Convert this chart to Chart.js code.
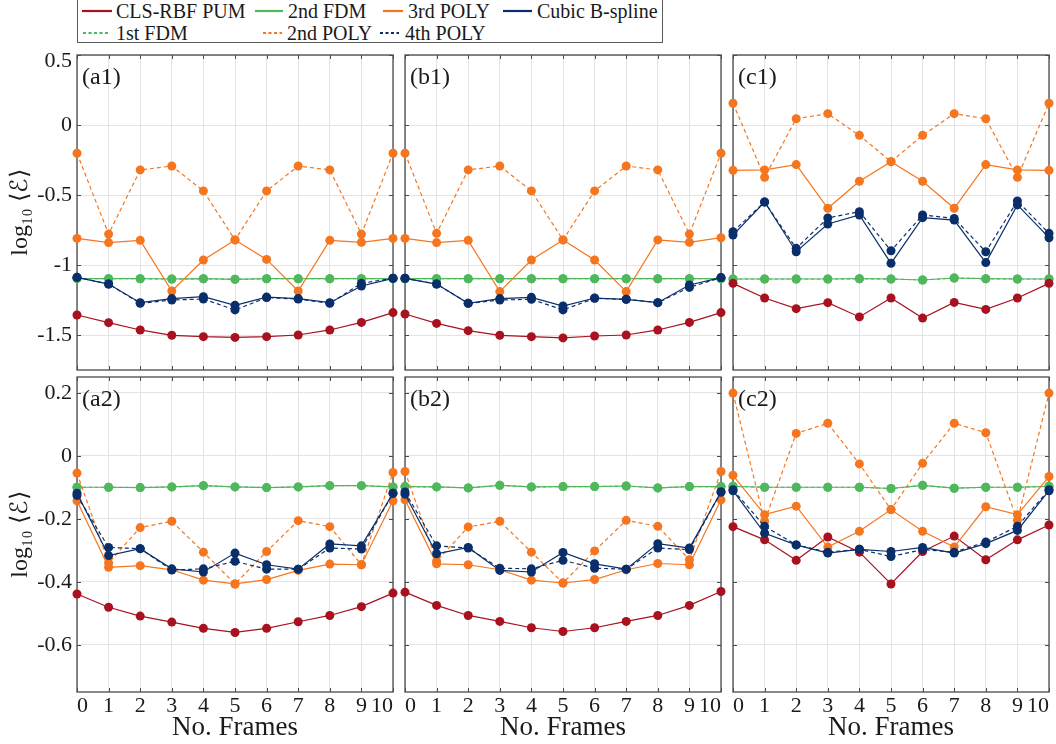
<!DOCTYPE html>
<html>
<head>
<meta charset="utf-8">
<script src="https://cdn.jsdelivr.net/npm/chart.js@4.4.1/dist/chart.umd.min.js"></script>
<style>
  html, body { margin: 0; padding: 0; background: #fff; }
  body { width: 1056px; height: 744px; position: relative; overflow: hidden;
         font-family: 'Liberation Serif', serif; }
  canvas { position: absolute; }
  #legend { position: absolute; left: 77px; top: -1px; width: 586px; height: 44px;
            border: 1px solid #5a5a5a; background: #fff; box-sizing: border-box; }
  .lg-item { position: absolute; font-family: 'Liberation Serif', serif; font-size: 20px;
             line-height: 20px; color: #1a1a1a; white-space: nowrap; }
</style>
</head>
<body>
<div id="legend"></div>
<script>
// ---- frame numbers and axis ticks ----
const frames = [0, 1, 2, 3, 4, 5, 6, 7, 8, 9, 10];
const yTicksTop = [0.5, 0, -0.5, -1, -1.5];
const yTickLabelsTop = ['0.5', '0', '-0.5', '-1', '-1.5'];
const yTicksBottom = [0.2, 0, -0.2, -0.4, -0.6];
const yTickLabelsBottom = ['0.2', '0', '-0.2', '-0.4', '-0.6'];
const yRangeTop = [-1.75, 0.5];
const yRangeBottom = [-0.75, 0.25];
const panelTags = ['(a1)', '(b1)', '(c1)', '(a2)', '(b2)', '(c2)'];

// ---- log10 of mean error per frame count ----
// (a1)
const pumA1     = [-1.357, -1.412, -1.464, -1.502, -1.512, -1.517, -1.512, -1.500, -1.464, -1.410, -1.340];
const fdm2A1    = [-1.097, -1.098, -1.098, -1.100, -1.098, -1.102, -1.098, -1.098, -1.098, -1.098, -1.097];
const fdm1A1    = [-1.097, -1.098, -1.098, -1.100, -1.098, -1.102, -1.098, -1.098, -1.098, -1.098, -1.097];
const poly3A1   = [-0.810, -0.840, -0.824, -1.186, -0.964, -0.821, -0.960, -1.186, -0.824, -0.838, -0.810];
const poly2A1   = [-0.202, -0.779, -0.321, -0.293, -0.471, -0.821, -0.471, -0.293, -0.321, -0.779, -0.202];
const bsplineA1 = [-1.088, -1.136, -1.269, -1.240, -1.226, -1.288, -1.229, -1.240, -1.269, -1.150, -1.095];
const poly4A1   = [-1.088, -1.136, -1.274, -1.250, -1.243, -1.321, -1.233, -1.243, -1.274, -1.131, -1.095];
// (b1)
const pumB1     = [-1.350, -1.417, -1.469, -1.502, -1.512, -1.521, -1.507, -1.500, -1.464, -1.410, -1.340];
const fdm2B1    = [-1.098, -1.098, -1.098, -1.098, -1.098, -1.098, -1.098, -1.098, -1.098, -1.098, -1.098];
const fdm1B1    = [-1.098, -1.098, -1.098, -1.098, -1.098, -1.098, -1.098, -1.098, -1.098, -1.098, -1.098];
const poly3B1   = [-0.810, -0.840, -0.824, -1.190, -0.964, -0.821, -0.964, -1.190, -0.821, -0.838, -0.805];
const poly2B1   = [-0.202, -0.774, -0.321, -0.293, -0.471, -0.821, -0.471, -0.293, -0.321, -0.779, -0.202];
const bsplineB1 = [-1.095, -1.136, -1.274, -1.240, -1.231, -1.293, -1.236, -1.245, -1.269, -1.143, -1.090];
const poly4B1   = [-1.095, -1.136, -1.274, -1.250, -1.245, -1.321, -1.238, -1.245, -1.269, -1.160, -1.090];
// (c1)
const pumC1     = [-1.131, -1.236, -1.312, -1.269, -1.371, -1.236, -1.379, -1.267, -1.317, -1.236, -1.131];
const fdm2C1    = [-1.100, -1.100, -1.100, -1.100, -1.098, -1.100, -1.107, -1.093, -1.098, -1.100, -1.100];
const fdm1C1    = [-1.100, -1.100, -1.100, -1.100, -1.098, -1.100, -1.107, -1.093, -1.098, -1.100, -1.100];
const poly3C1   = [-0.324, -0.321, -0.283, -0.595, -0.402, -0.262, -0.402, -0.595, -0.283, -0.321, -0.324];
const poly2C1   = [0.155, -0.374, 0.045, 0.081, -0.074, -0.262, -0.074, 0.081, 0.045, -0.374, 0.155];
const bsplineC1 = [-0.786, -0.550, -0.905, -0.707, -0.643, -0.988, -0.662, -0.679, -0.983, -0.571, -0.805];
const poly4C1   = [-0.762, -0.550, -0.881, -0.664, -0.619, -0.898, -0.643, -0.667, -0.905, -0.543, -0.774];
// (a2)
const pumA2     = [-0.439, -0.481, -0.509, -0.528, -0.548, -0.561, -0.548, -0.527, -0.507, -0.479, -0.436];
const fdm2A2    = [-0.100, -0.100, -0.101, -0.099, -0.095, -0.099, -0.101, -0.099, -0.095, -0.095, -0.099];
const fdm1A2    = [-0.100, -0.100, -0.101, -0.099, -0.095, -0.099, -0.101, -0.099, -0.095, -0.095, -0.099];
const poly3A2   = [-0.143, -0.354, -0.349, -0.362, -0.395, -0.407, -0.393, -0.364, -0.344, -0.346, -0.143];
const poly2A2   = [-0.055, -0.340, -0.228, -0.208, -0.306, -0.407, -0.304, -0.206, -0.225, -0.346, -0.053];
const bsplineA2 = [-0.119, -0.317, -0.295, -0.359, -0.369, -0.309, -0.346, -0.360, -0.280, -0.286, -0.119];
const poly4A2   = [-0.126, -0.291, -0.295, -0.363, -0.359, -0.335, -0.360, -0.360, -0.293, -0.296, -0.119];
// (b2)
const pumB2     = [-0.433, -0.475, -0.507, -0.526, -0.546, -0.558, -0.546, -0.526, -0.507, -0.475, -0.431];
const fdm2B2    = [-0.098, -0.099, -0.102, -0.094, -0.099, -0.098, -0.098, -0.096, -0.102, -0.098, -0.098];
const fdm1B2    = [-0.098, -0.099, -0.102, -0.094, -0.099, -0.098, -0.098, -0.096, -0.102, -0.098, -0.098];
const poly3B2   = [-0.140, -0.343, -0.346, -0.362, -0.395, -0.404, -0.393, -0.362, -0.342, -0.346, -0.140];
const poly2B2   = [-0.050, -0.335, -0.226, -0.208, -0.306, -0.404, -0.302, -0.205, -0.224, -0.330, -0.050];
const bsplineB2 = [-0.122, -0.311, -0.291, -0.364, -0.369, -0.307, -0.343, -0.360, -0.279, -0.293, -0.115];
const poly4B2   = [-0.115, -0.286, -0.293, -0.357, -0.359, -0.332, -0.357, -0.360, -0.293, -0.298, -0.115];
// (c2)
const pumC2     = [-0.225, -0.267, -0.332, -0.258, -0.306, -0.407, -0.304, -0.255, -0.330, -0.267, -0.220];
const fdm2C2    = [-0.097, -0.100, -0.100, -0.100, -0.100, -0.104, -0.094, -0.103, -0.100, -0.100, -0.097];
const fdm1C2    = [-0.097, -0.100, -0.100, -0.100, -0.100, -0.104, -0.094, -0.103, -0.100, -0.100, -0.097];
const poly3C2   = [-0.062, -0.187, -0.160, -0.290, -0.240, -0.171, -0.240, -0.290, -0.162, -0.187, -0.066];
const poly2C2   = [0.199, -0.208, 0.071, 0.103, -0.026, -0.171, -0.024, 0.103, 0.073, -0.205, 0.199];
const bsplineC2 = [-0.111, -0.246, -0.283, -0.309, -0.297, -0.304, -0.291, -0.309, -0.279, -0.237, -0.111];
const poly4C2   = [-0.108, -0.224, -0.283, -0.306, -0.297, -0.320, -0.298, -0.306, -0.274, -0.224, -0.108];

// ---- series styling (index 0 is drawn on top) ----
const RED = '#a8111f', GREEN = '#4fb85c', ORANGE = '#f5761e', NAVY = '#0a2e6a';
const seriesStyle = [
  { key: 'bspline', label: 'Cubic B-spline', color: NAVY,   dash: [] },
  { key: 'poly4',   label: '4th POLY',       color: NAVY,   dash: [4, 3] },
  { key: 'poly3',   label: '3rd POLY',       color: ORANGE, dash: [] },
  { key: 'poly2',   label: '2nd POLY',       color: ORANGE, dash: [4, 3] },
  { key: 'pum',     label: 'CLS-RBF PUM',    color: RED,    dash: [] },
  { key: 'fdm2',    label: '2nd FDM',        color: GREEN,  dash: [] },
  { key: 'fdm1',    label: '1st FDM',        color: GREEN,  dash: [3, 3] }
];

const panelData = [
  { pum: pumA1, fdm2: fdm2A1, fdm1: fdm1A1, poly3: poly3A1, poly2: poly2A1, bspline: bsplineA1, poly4: poly4A1 },
  { pum: pumB1, fdm2: fdm2B1, fdm1: fdm1B1, poly3: poly3B1, poly2: poly2B1, bspline: bsplineB1, poly4: poly4B1 },
  { pum: pumC1, fdm2: fdm2C1, fdm1: fdm1C1, poly3: poly3C1, poly2: poly2C1, bspline: bsplineC1, poly4: poly4C1 },
  { pum: pumA2, fdm2: fdm2A2, fdm1: fdm1A2, poly3: poly3A2, poly2: poly2A2, bspline: bsplineA2, poly4: poly4A2 },
  { pum: pumB2, fdm2: fdm2B2, fdm1: fdm1B2, poly3: poly3B2, poly2: poly2B2, bspline: bsplineB2, poly4: poly4B2 },
  { pum: pumC2, fdm2: fdm2C2, fdm1: fdm1C2, poly3: poly3C2, poly2: poly2C2, bspline: bsplineC2, poly4: poly4C2 }
];

// ---- page layout ----
const COL_LEFT = [77, 405, 733];
const ROW_TOP = [55, 377];
const PANEL_W = 316, PANEL_H = 315;
const SERIF = "'Liberation Serif', serif";
const TEXT = '#1a1a1a';

// legend: [series key, line start x, line length, text x, row]
const legendLayout = [
  ['pum',     82, 30, 116, 0],
  ['fdm2',   255, 28, 288, 0],
  ['poly3',  383, 20, 408, 0],
  ['bspline',503, 29, 537, 0],
  ['fdm1',    83, 27, 116, 1],
  ['poly2',  263, 19, 287, 1],
  ['poly4',  380, 19, 405, 1]
];
const legendRowY = [1, 23];

(function buildLegend() {
  const box = document.getElementById('legend');
  legendLayout.forEach(([key, lx, len, tx, row]) => {
    const s = seriesStyle.find(v => v.key === key);
    const line = document.createElementNS('http://www.w3.org/2000/svg', 'svg');
    line.setAttribute('width', len); line.setAttribute('height', 20);
    line.style.position = 'absolute';
    line.style.left = (lx - 78) + 'px';
    line.style.top = legendRowY[row] + 'px';
    const l = document.createElementNS('http://www.w3.org/2000/svg', 'line');
    l.setAttribute('x1', 0); l.setAttribute('x2', len);
    l.setAttribute('y1', 10); l.setAttribute('y2', 10);
    l.setAttribute('stroke', s.color); l.setAttribute('stroke-width', 2.2);
    if (s.dash.length) l.setAttribute('stroke-dasharray', '3,2.5');
    line.appendChild(l);
    box.appendChild(line);
    const t = document.createElement('div');
    t.className = 'lg-item';
    t.style.left = (tx - 78) + 'px';
    t.style.top = legendRowY[row] + 'px';
    t.textContent = s.label;
    box.appendChild(t);
  });
})();

// box, inward tick marks and panel tag
const framePlugin = {
  id: 'frame',
  beforeDatasetsDraw(chart, args, opts) {
    const { ctx, chartArea: { left, right, top, bottom } } = chart;
    const xs = chart.scales.x, ys = chart.scales.y;
    ctx.save();
    ctx.strokeStyle = '#4a4a4a';
    ctx.lineWidth = 1;
    ctx.beginPath();
    xs.ticks.forEach(t => {
      const px = Math.round(xs.getPixelForValue(t.value)) + 0.5;
      ctx.moveTo(px, bottom); ctx.lineTo(px, bottom - 4);
      ctx.moveTo(px, top); ctx.lineTo(px, top + 4);
    });
    ys.ticks.forEach(t => {
      const py = Math.round(ys.getPixelForValue(t.value)) + 0.5;
      ctx.moveTo(left, py); ctx.lineTo(left + 4, py);
      ctx.moveTo(right, py); ctx.lineTo(right - 4, py);
    });
    ctx.stroke();
    ctx.lineWidth = 1.3;
    ctx.strokeRect(left, top, right - left, bottom - top);
    ctx.fillStyle = TEXT;
    ctx.font = '24px ' + SERIF;
    ctx.textBaseline = 'middle';
    ctx.textAlign = 'left';
    ctx.fillText(opts.tag, left + 5, top + 23);
    ctx.restore();
  }
};

// keep every panel's plot area at exactly the same size
function pinScale(s, prop, size) {
  s[prop] = size;
  s.paddingLeft = 0; s.paddingRight = 0; s.paddingTop = 0; s.paddingBottom = 0;
}

function makePanel(idx) {
  const row = Math.floor(idx / 3), col = idx % 3;
  const padL = col === 0 ? 77 : 8, padR = 8, padT = 10;
  const padB = row === 1 ? 744 - (ROW_TOP[1] + PANEL_H) : 8;
  const cv = document.createElement('canvas');
  const w = PANEL_W + padL + padR, h = PANEL_H + padT + padB;
  cv.width = w; cv.height = h;
  cv.style.width = w + 'px'; cv.style.height = h + 'px';
  cv.style.left = (COL_LEFT[col] - padL) + 'px';
  cv.style.top = (ROW_TOP[row] - padT) + 'px';
  document.body.appendChild(cv);

  const vals = panelData[idx];
  const yTicks = row === 0 ? yTicksTop : yTicksBottom;
  const yLabels = row === 0 ? yTickLabelsTop : yTickLabelsBottom;
  const yRange = row === 0 ? yRangeTop : yRangeBottom;

  const datasets = seriesStyle.map(s => ({
    label: s.label,
    data: frames.map((f, i) => ({ x: f, y: vals[s.key][i] })),
    borderColor: s.color,
    backgroundColor: s.color,
    borderWidth: 1.2,
    borderDash: s.dash,
    pointRadius: 4.5,
    pointBorderWidth: 0,
    pointBackgroundColor: s.color,
    tension: 0,
    clip: false
  }));

  // a label sitting on the upper edge is tucked inside the axis span
  const yLabel = v => {
    const k = yTicks.indexOf(v);
    if (k < 0) return '';
    return v === yRange[1] ? ['', yLabels[k]] : yLabels[k];
  };

  new Chart(cv, {
    type: 'line',
    data: { datasets },
    options: {
      responsive: false,
      maintainAspectRatio: false,
      devicePixelRatio: 1,
      animation: false,
      events: [],
      layout: { padding: { left: 0, right: padR, top: padT, bottom: 0 } },
      plugins: { legend: { display: false }, tooltip: { enabled: false }, frame: { tag: panelTags[idx] } },
      scales: {
        x: {
          type: 'linear', min: 0, max: 10,
          afterBuildTicks: s => { s.ticks = frames.map(v => ({ value: v })); },
          afterFit: s => pinScale(s, 'height', padB),
          grid: { color: '#e3e3e3', lineWidth: 1, drawTicks: false },
          border: { display: false },
          ticks: {
            display: row === 1, autoSkip: false, maxRotation: 0, minRotation: 0,
            align: 'inner', padding: 1,
            color: TEXT, font: { family: SERIF, size: 22 },
            callback: v => String(v)
          },
          title: {
            display: row === 1, text: 'No. Frames', color: TEXT,
            font: { family: SERIF, size: 27 }, padding: { top: 0, bottom: 0 }
          }
        },
        y: {
          type: 'linear', min: yRange[0], max: yRange[1],
          afterBuildTicks: s => { s.ticks = yTicks.map(v => ({ value: v })); },
          afterFit: s => pinScale(s, 'width', padL),
          grid: { color: '#e3e3e3', lineWidth: 1, drawTicks: false },
          border: { display: false },
          ticks: {
            display: col === 0, padding: 5, color: TEXT,
            font: { family: SERIF, size: 22, lineHeight: 0.6 },
            callback: yLabel
          },
          title: {
            display: col === 0, text: 'log\u2081\u2080 \u27E8\u2130\u27E9', color: TEXT,
            font: { family: SERIF, size: 24 }, padding: { top: 6, bottom: 0 }
          }
        }
      }
    },
    plugins: [framePlugin]
  });
}

for (let i = 0; i < 6; i++) makePanel(i);
</script>
</body>
</html>
